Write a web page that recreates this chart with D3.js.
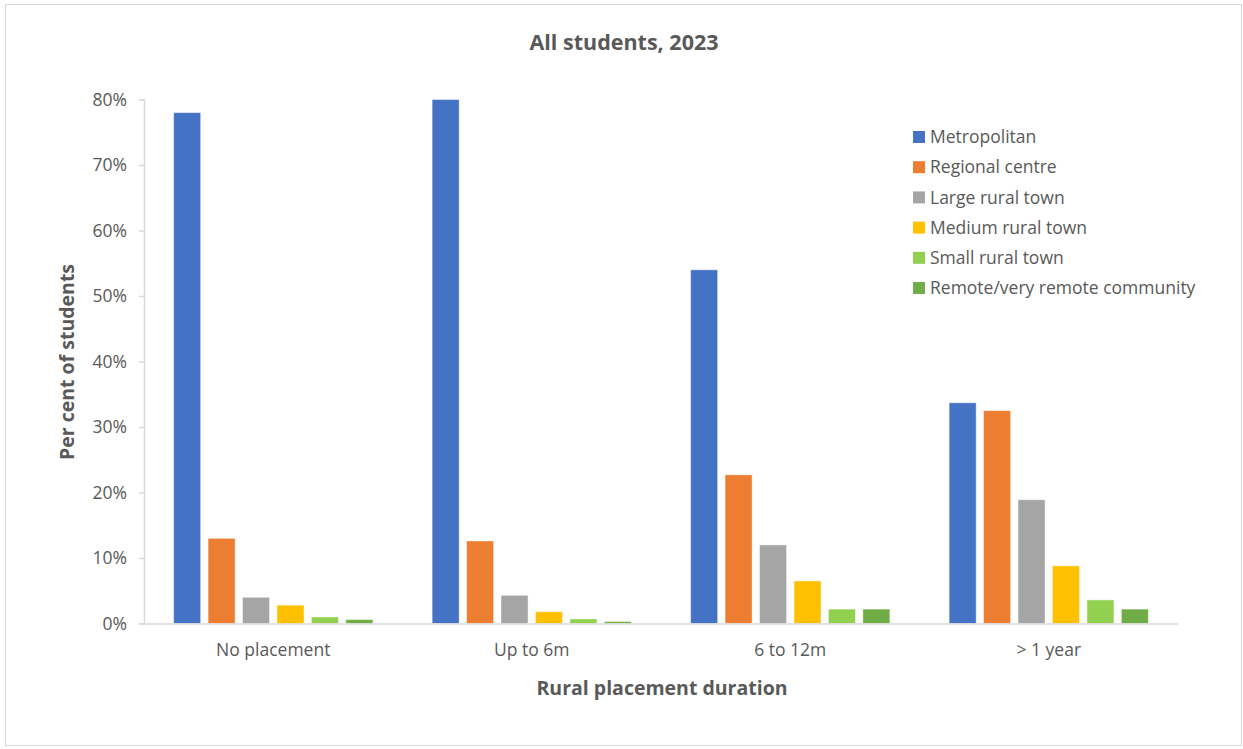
<!DOCTYPE html>
<html>
<head>
<meta charset="utf-8">
<script src="https://cdn.jsdelivr.net/npm/d3@7/dist/d3.min.js"></script>
<style>
  html, body { margin: 0; padding: 0; background: #fff; }
  svg { display: block; font-family: "Open Sans", "Noto Sans", sans-serif; }
</style>
</head>
<body>
<svg id="chart" width="1243" height="749"></svg>
<script>
// Rural placement duration categories
const categories = ["No placement", "Up to 6m", "6 to 12m", "> 1 year"];

// Home location of students (series)
const seriesNames = [
  "Metropolitan",
  "Regional centre",
  "Large rural town",
  "Medium rural town",
  "Small rural town",
  "Remote/very remote community"
];
const seriesColors = ["#4472c4", "#ed7d31", "#a5a5a5", "#ffc000", "#92d050", "#70ad47"];

// Per cent of students, one array per series, in category order
const metropolitan   = [78.0, 80.0, 54.0, 33.7];
const regionalCentre = [13.0, 12.6, 22.7, 32.5];
const largeRural     = [4.0, 4.3, 12.0, 18.9];
const mediumRural    = [2.8, 1.8, 6.5, 8.8];
const smallRural     = [1.0, 0.7, 2.2, 3.6];
const remote         = [0.6, 0.3, 2.2, 2.2];

const yTicks = [0, 10, 20, 30, 40, 50, 60, 70, 80];

const seriesValues = [metropolitan, regionalCentre, largeRural, mediumRural, smallRural, remote];

const svg = d3.select("#chart");
const W = 1243, H = 749;
const textColor = "#595959";
const axisColor = "#d9d9d9";

// Outer chart border
svg.append("rect")
  .attr("x", 5.5).attr("y", 4.5)
  .attr("width", W - 7).attr("height", H - 8)
  .attr("fill", "#fff")
  .attr("stroke", axisColor).attr("stroke-width", 1);

const plot = { left: 144, right: 1178, top: 99.5, bottom: 623.5 };

const x0 = d3.scaleBand()
  .domain(categories)
  .range([plot.left, plot.right])
  .padding(0);

const x1 = d3.scaleBand()
  .domain(seriesNames)
  .range([0, x0.bandwidth()])
  .paddingInner(0.215)
  .paddingOuter(0.86);

const y = d3.scaleLinear()
  .domain([0, 80])
  .range([plot.bottom, plot.top]);

// Title
svg.append("text")
  .attr("x", 624).attr("y", 50)
  .attr("text-anchor", "middle")
  .attr("fill", textColor)
  .attr("font-size", 21.5)
  .attr("font-weight", "bold")
  .text("All students, 2023");

// Y axis
const yAxis = svg.append("g")
  .attr("transform", `translate(${plot.left},0)`)
  .call(d3.axisLeft(y).tickValues(yTicks).tickSize(5).tickPadding(12)
    .tickFormat(d => d + "%"));
yAxis.select(".domain").attr("stroke", axisColor).attr("stroke-width", 1.5);
yAxis.selectAll(".tick line").attr("stroke", axisColor).attr("stroke-width", 1.5);
yAxis.selectAll(".tick text")
  .attr("fill", textColor)
  .attr("font-size", 17.5)
  .attr("font-family", "'Open Sans', sans-serif");

// Bars
const groups = svg.append("g")
  .selectAll("g")
  .data(categories)
  .join("g")
  .attr("transform", d => `translate(${x0(d)},0)`);

groups.selectAll("rect")
  .data((c, ci) => seriesNames.map((s, si) => ({ s, si, v: seriesValues[si][ci] })))
  .join("rect")
  .attr("x", d => x1(d.s))
  .attr("y", d => y(d.v))
  .attr("width", x1.bandwidth())
  .attr("height", d => y(0) - y(d.v))
  .attr("fill", d => seriesColors[d.si])
  .attr("stroke", "#ffffff")
  .attr("stroke-opacity", 0.45)
  .attr("stroke-width", 1);

// X axis
const xAxis = svg.append("g")
  .attr("transform", `translate(0,${plot.bottom})`)
  .call(d3.axisBottom(x0).tickSize(0).tickPadding(20));
xAxis.select(".domain").attr("stroke", axisColor).attr("stroke-width", 1.5);
xAxis.selectAll(".tick text")
  .attr("fill", textColor)
  .attr("font-size", 17.5)
  .attr("font-family", "'Open Sans', sans-serif");

// Axis titles
svg.append("text")
  .attr("x", 662).attr("y", 695)
  .attr("text-anchor", "middle")
  .attr("fill", textColor)
  .attr("font-size", 19.5)
  .attr("font-weight", "bold")
  .text("Rural placement duration");

svg.append("text")
  .attr("transform", "translate(74,362) rotate(-90)")
  .attr("text-anchor", "middle")
  .attr("fill", textColor)
  .attr("font-size", 19.5)
  .attr("font-weight", "bold")
  .text("Per cent of students");

// Legend
const legend = svg.append("g")
  .selectAll("g")
  .data(seriesNames)
  .join("g")
  .attr("transform", (d, i) => `translate(913,${137 + i * 30.2})`);

legend.append("rect")
  .attr("x", 0).attr("y", -6)
  .attr("width", 12).attr("height", 12)
  .attr("fill", (d, i) => seriesColors[i]);

legend.append("text")
  .attr("x", 17).attr("y", 0)
  .attr("dy", "0.35em")
  .attr("fill", textColor)
  .attr("font-size", 17.5)
  .text(d => d);
</script>
</body>
</html>
